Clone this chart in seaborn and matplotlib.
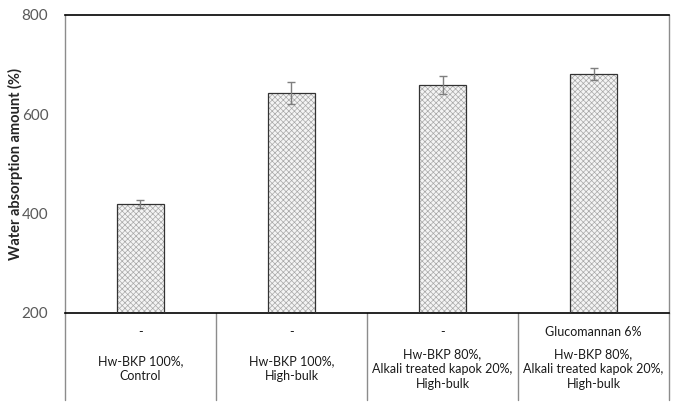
import numpy as np
import matplotlib
matplotlib.use("Agg")
import matplotlib.pyplot as plt
import matplotlib.transforms as mtransforms
from matplotlib.patches import Rectangle
import seaborn as sns

# data
groups = ["A", "B", "C", "D"]
additive = ["-", "-", "-", "Glucomannan 6%"]
furnish = ["Hw-BKP 100%,\nControl",
           "Hw-BKP 100%,\nHigh-bulk",
           "Hw-BKP 80%,\nAlkali treated kapok 20%,\nHigh-bulk",
           "Hw-BKP 80%,\nAlkali treated kapok 20%,\nHigh-bulk"]
absorption = [419, 643, 659, 681]
sd = [8, 23, 18, 12]

sns.set_style("white")
plt.rcParams['font.family'] = ['Lato', 'DejaVu Sans']
plt.rcParams['hatch.linewidth'] = 0.5

fig = plt.figure(figsize=(6.79, 4.12), dpi=100)
ax = fig.add_axes([0.0957, 0.2403, 0.8896, 0.7233])

sns.barplot(x=groups, y=absorption, errorbar=None, width=0.31,
            color="#f4f4f4", edgecolor="#a8a8a8", linewidth=0, ax=ax)
for p in list(ax.patches):
    p.set_hatch("xxxxxx")
    ax.add_patch(Rectangle(p.get_xy(), p.get_width(), p.get_height(),
                           fill=False, edgecolor="#333333", linewidth=0.9, zorder=3))

ax.errorbar(x=np.arange(len(groups)), y=absorption, yerr=sd, fmt="none",
            ecolor="#7f7f7f", elinewidth=1, capsize=3, capthick=1, zorder=4)

ax.set_ylim(200, 800)
ax.set_yticks([200, 400, 600, 800])
ax.set_xlim(-0.5, len(groups) - 0.5)
ax.set_xticks([])
ax.tick_params(axis="y", length=0, labelsize=11, labelcolor="#595959", pad=12)
ax.set_ylabel("Water absorption amount (%)", fontsize=10.5, fontweight="bold")
ax.yaxis.set_label_coords(-0.07, 0.5)

for side in ["top", "bottom"]:
    ax.spines[side].set_color("black")
    ax.spines[side].set_linewidth(1.2)
for side in ["left", "right"]:
    ax.spines[side].set_color("#8c8c8c")
    ax.spines[side].set_linewidth(1)

# table-like category labels under the axis
trans = mtransforms.blended_transform_factory(ax.transData, ax.transAxes)
for xb in np.arange(len(groups) + 1) - 0.5:
    ax.plot([xb, xb], [0, -0.292], transform=trans, color="#8c8c8c",
            linewidth=1, clip_on=False)
for i in range(len(groups)):
    ax.text(i, -0.064, additive[i], transform=trans, ha="center", va="center",
            fontsize=9, color="#1a1a1a")
    ax.text(i, -0.187, furnish[i], transform=trans, ha="center", va="center",
            fontsize=9, color="#1a1a1a", linespacing=1.3)

fig.savefig("out.png", dpi=100)
